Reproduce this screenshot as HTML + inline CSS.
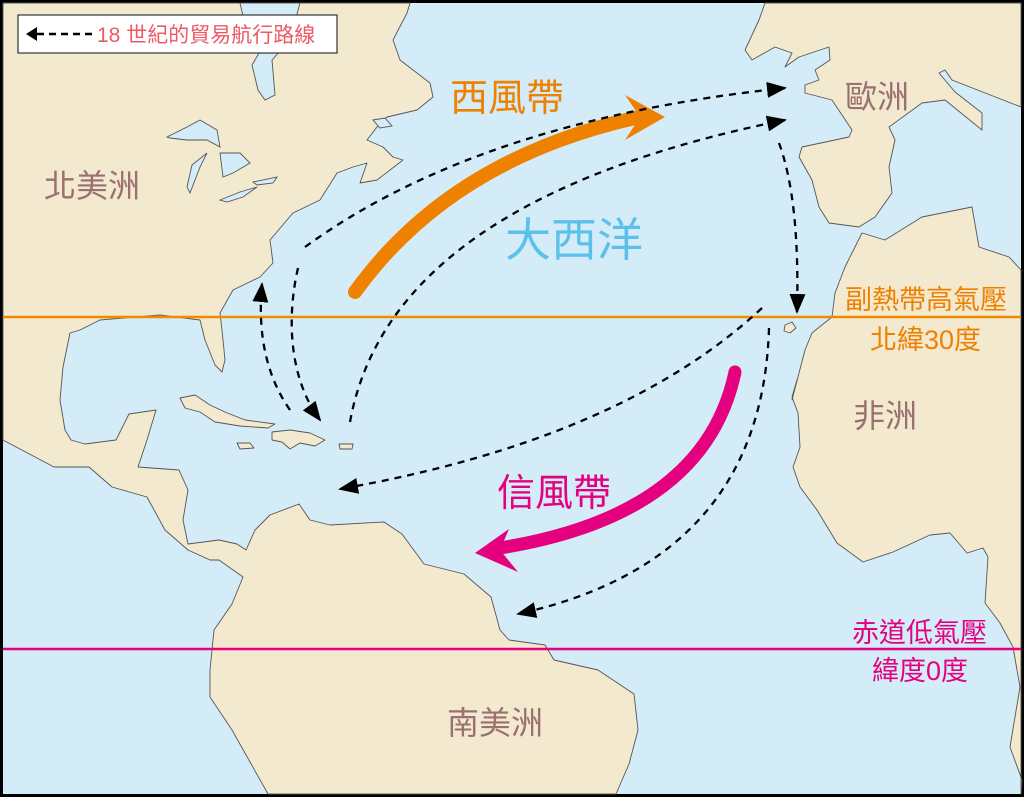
<!DOCTYPE html>
<html><head><meta charset="utf-8"><style>
html,body{margin:0;padding:0;background:#000}
svg{display:block}
text{font-family:"Liberation Sans","Noto Sans CJK TC",sans-serif}
</style></head><body>
<svg width="1024" height="797" viewBox="0 0 1024 797" xmlns="http://www.w3.org/2000/svg">
<defs>
<marker id="a" viewBox="0 0 20 16" refX="18" refY="8" markerWidth="20" markerHeight="16" orient="auto" markerUnits="userSpaceOnUse"><path d="M0,0 L20,8 L0,16 Z" fill="#000"/></marker>
</defs>
<rect x="0" y="0" width="1024" height="797" fill="#000"/>
<rect x="3" y="3" width="1018" height="791" fill="#d4ecf8"/>
<g fill="#f3e9cf" stroke="#555" stroke-width="0.9" stroke-linejoin="round">
<polygon points="3,3 410,3 407,13 393,40 400,60 413,70 430,83 433,97 417,110 387,117 377,127 367,140 383,147 393,157 403,160 377,180 360,183 367,163 353,167 337,173 320,200 293,213 270,240 273,263 260,277 233,290 220,313 222,330 225,360 222,372 215,365 205,340 200,320 160,315 100,320 80,330 70,333 63,367 60,400 65,430 71,440 85,444 116,440 129,414 156,410 147,440 138,467 179,470 188,490 183,520 188,544 219,540 237,544 246,550 255,530 270,515 299,504 310,520 330,525 384,522 402,534 424,564 464,574 491,597 500,630 509,640 545,645 554,660 598,670 634,694 638,730 629,764 616,794 268,794 232,730 210,697 210,670 214,630 232,604 243,577 219,560 210,560 188,550 165,530 147,497 112,487 89,467 54,467 3,440"/>
<polygon points="765,3 759,20 745,50 752,60 775,47 792,53 785,67 799,57 829,47 830,60 815,70 819,80 805,85 805,93 832,100 852,130 849,137 802,147 799,157 812,180 819,207 829,223 859,227 875,217 892,193 889,167 895,140 889,127 922,103 945,100 982,130 982,113 955,92 939,73 945,70 952,80 1021,107 1021,3"/>
<polygon points="862,233 885,240 922,217 972,207 979,247 1009,257 1021,270 1021,794 1022,780 1010,747 1020,687 1013,647 1000,623 985,603 988,557 983,548 967,553 950,533 930,535 893,552 863,562 837,543 817,510 800,487 793,467 800,447 798,413 792,397 797,380 792,400 805,350 812,333 832,317 835,293 845,267"/>
<polygon points="180,398 195,395 210,405 225,412 245,420 275,424 268,428 240,426 215,422 200,412 185,408"/>
<polygon points="272,432 290,430 310,433 325,440 315,446 300,443 290,449 282,442 272,440"/>
<polygon points="339,444 353,444 352,449 340,449"/>
<polygon points="237,443 250,443 254,448 240,449"/>
<polygon points="785,325 792,322 796,328 790,333 784,331"/>
</g>
<g fill="#d4ecf8" stroke="#555" stroke-width="0.9">
<polygon points="240,3 300,3 290,40 272,60 275,95 265,100 258,90 252,65 262,48 245,25"/>
<polygon points="167,137 187,127 200,120 217,130 220,147 207,140 187,140 170,138"/>
<polygon points="207,153 200,167 190,193 187,187 192,165"/>
<polygon points="220,153 240,153 250,163 233,173 223,177"/>
<polygon points="220,200 240,192 257,187 243,197 227,202"/>
<polygon points="253,182 277,177 273,183 257,185"/>
<polygon points="373,120 385,118 392,126 380,128"/>
</g>
<line x1="3" y1="317" x2="1021" y2="317" stroke="#f08a00" stroke-width="2.5"/>
<line x1="3" y1="649" x2="1021" y2="649" stroke="#e4007f" stroke-width="2.5"/>
<path d="M355,292 Q450,160 635,118" fill="none" stroke="#ee8100" stroke-width="14" stroke-linecap="round"/>
<polygon points="625,95 665,117 625,140 640,117" fill="#ee8100"/>
<path d="M735,372 Q705,515 500,548" fill="none" stroke="#e4007f" stroke-width="13" stroke-linecap="round"/>
<polygon points="509,529 475,553 518,572 500,550" fill="#e4007f"/>
<g fill="none" stroke="#000" stroke-width="2.3" stroke-dasharray="7,6">
<path d="M305,247 Q480,120 785,88" marker-end="url(#a)"/>
<path d="M298,268 C286,320 290,380 320,420" marker-end="url(#a)"/>
<path d="M350,422 Q390,200 785,120" marker-end="url(#a)"/>
<path d="M779,143 Q800,200 797,312" marker-end="url(#a)"/>
<path d="M762,308 Q620,440 340,489" marker-end="url(#a)"/>
<path d="M769,328 Q762,560 518,614" marker-end="url(#a)"/>
<path d="M290,410 Q255,360 262,284" marker-end="url(#a)"/>
</g>
<rect x="18" y="15" width="319" height="38" fill="#fff" stroke="#333" stroke-width="1.2"/>
<polygon points="26,34 37,27 37,41" fill="#000"/>
<line x1="37" y1="34" x2="92" y2="34" stroke="#000" stroke-width="2.5" stroke-dasharray="7,5"/>
<text x="97" y="42" font-size="21" fill="#ec5a64">18 世紀的貿易航行路線</text>
<text x="450" y="111" font-size="38" fill="#ee8100">西風帶</text>
<text x="505" y="256" font-size="46" fill="#5bc0eb">大西洋</text>
<text x="845" y="108" font-size="32" fill="#9a7070">歐洲</text>
<text x="44" y="197" font-size="32" fill="#9a7070">北美洲</text>
<text x="853" y="427" font-size="32" fill="#9a7070">非洲</text>
<text x="447" y="734" font-size="32" fill="#9a7070">南美洲</text>
<text x="497" y="506" font-size="38" fill="#e4007f">信風帶</text>
<text x="845" y="309" font-size="27" fill="#ee8100">副熱帶高氣壓</text>
<text x="870" y="349" font-size="27" fill="#ee8100">北緯30度</text>
<text x="852" y="642" font-size="27" fill="#e4007f">赤道低氣壓</text>
<text x="872" y="680" font-size="27" fill="#e4007f">緯度0度</text>
</svg>
</body></html>
